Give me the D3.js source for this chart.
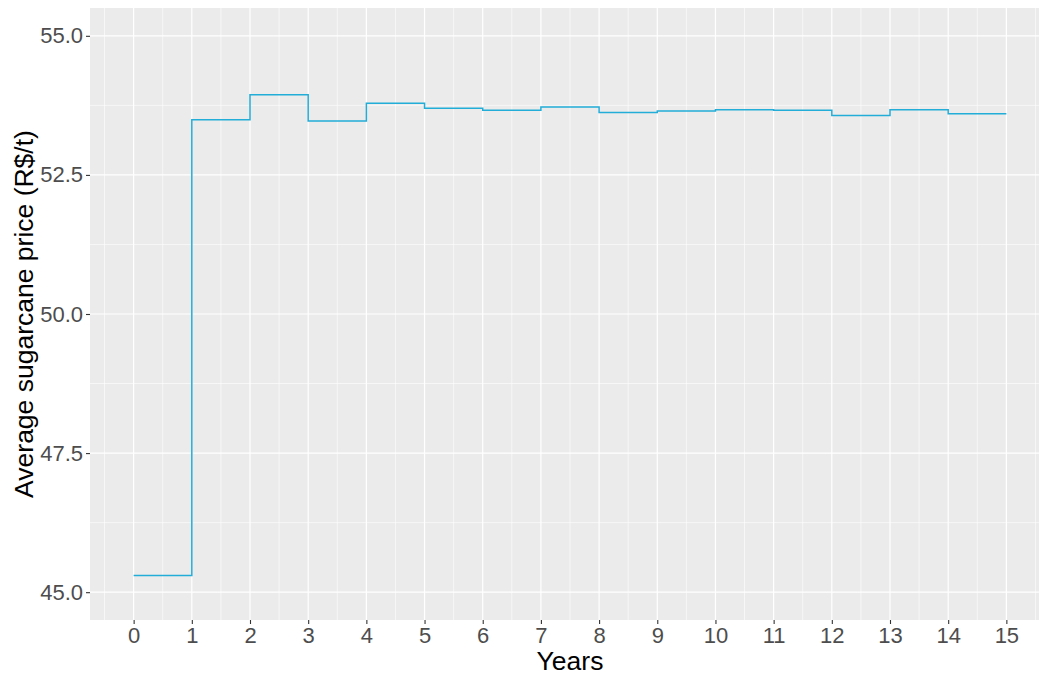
<!DOCTYPE html>
<html>
<head>
<meta charset="utf-8">
<script src="https://cdn.jsdelivr.net/npm/d3@7"></script>
<style>
  html, body { margin: 0; padding: 0; background: #fff; }
  svg { display: block; font-family: "Liberation Sans", Arial, sans-serif; }
</style>
</head>
<body>
<svg id="chart" width="1039" height="677"></svg>
<script>
// Yearly average sugarcane price; each value holds from year i to year i+1
const years = [0, 1, 2, 3, 4, 5, 6, 7, 8, 9, 10, 11, 12, 13, 14];
const prices = [45.30, 53.49, 53.94, 53.47, 53.79, 53.70, 53.66, 53.72, 53.62, 53.65, 53.67, 53.66, 53.57, 53.67, 53.60];
const xTicks = [0, 1, 2, 3, 4, 5, 6, 7, 8, 9, 10, 11, 12, 13, 14, 15];
const yTicks = [45.0, 47.5, 50.0, 52.5, 55.0];
const yMinor = [46.25, 48.75, 51.25, 53.75];
const xMinor = [-0.5, 0.5, 1.5, 2.5, 3.5, 4.5, 5.5, 6.5, 7.5, 8.5, 9.5, 10.5, 11.5, 12.5, 13.5, 14.5, 15.5];

const svg = d3.select("#chart");
const panel = { left: 90, top: 8, right: 1050, bottom: 620 };

const x = d3.scaleLinear().domain([-0.75, 15.75]).range([panel.left, panel.right]);
const y = d3.scaleLinear().domain([44.5, 55.5]).range([panel.bottom, panel.top]);

// panel background
svg.append("rect")
  .attr("x", panel.left).attr("y", panel.top)
  .attr("width", panel.right - panel.left).attr("height", panel.bottom - panel.top)
  .attr("fill", "#EBEBEB");

const grid = svg.append("g");
// minor grid
grid.selectAll(".ymin").data(yMinor).join("line")
  .attr("x1", panel.left).attr("x2", panel.right)
  .attr("y1", d => y(d)).attr("y2", d => y(d))
  .attr("stroke", "#fff").attr("stroke-width", 0.6);
grid.selectAll(".xmin").data(xMinor).join("line")
  .attr("y1", panel.top).attr("y2", panel.bottom)
  .attr("x1", d => x(d)).attr("x2", d => x(d))
  .attr("stroke", "#fff").attr("stroke-width", 0.6);
// major grid
grid.selectAll(".ymaj").data(yTicks).join("line")
  .attr("x1", panel.left).attr("x2", panel.right)
  .attr("y1", d => y(d)).attr("y2", d => y(d))
  .attr("stroke", "#fff").attr("stroke-width", 1.2);
grid.selectAll(".xmaj").data(xTicks).join("line")
  .attr("y1", panel.top).attr("y2", panel.bottom)
  .attr("x1", d => x(d)).attr("x2", d => x(d))
  .attr("stroke", "#fff").attr("stroke-width", 1.2);

// step line: extend the last value to year 15
const pts = years.map((yr, i) => [yr, prices[i]]);
pts.push([years[years.length - 1] + 1, prices[prices.length - 1]]);
const line = d3.line().x(d => x(d[0])).y(d => y(d[1])).curve(d3.curveStepAfter);
svg.append("path")
  .datum(pts)
  .attr("d", line)
  .attr("fill", "none")
  .attr("stroke", "#22ADD8")
  .attr("stroke-width", 1.5);

// y axis
const yAxis = d3.axisLeft(y).tickValues(yTicks).tickFormat(d3.format(".1f")).tickSize(4).tickPadding(3);
const gy = svg.append("g").attr("transform", `translate(${panel.left},0)`).call(yAxis);
gy.select(".domain").remove();
gy.selectAll(".tick line").attr("stroke", "#333").attr("stroke-width", 1.1);
gy.selectAll(".tick text").attr("fill", "#4D4D4D").style("font-size", "22px")
  .style("font-family", "'Liberation Sans', Arial, sans-serif");

// x axis
const xAxis = d3.axisBottom(x).tickValues(xTicks).tickFormat(d3.format("d")).tickSize(4).tickPadding(3);
const gx = svg.append("g").attr("transform", `translate(0,${panel.bottom})`).call(xAxis);
gx.select(".domain").remove();
gx.selectAll(".tick line").attr("stroke", "#333").attr("stroke-width", 1.1);
gx.selectAll(".tick text").attr("fill", "#4D4D4D").style("font-size", "22px")
  .style("font-family", "'Liberation Sans', Arial, sans-serif");

// axis titles
svg.append("text")
  .attr("x", x(7.5)).attr("y", 670)
  .attr("text-anchor", "middle")
  .style("font-size", "26.5px").attr("fill", "#000")
  .text("Years");

svg.append("text")
  .attr("transform", `translate(33,${(panel.top + panel.bottom) / 2}) rotate(-90)`)
  .attr("text-anchor", "middle")
  .style("font-size", "26.5px").attr("fill", "#000")
  .text("Average sugarcane price (R$/t)");
</script>
</body>
</html>
